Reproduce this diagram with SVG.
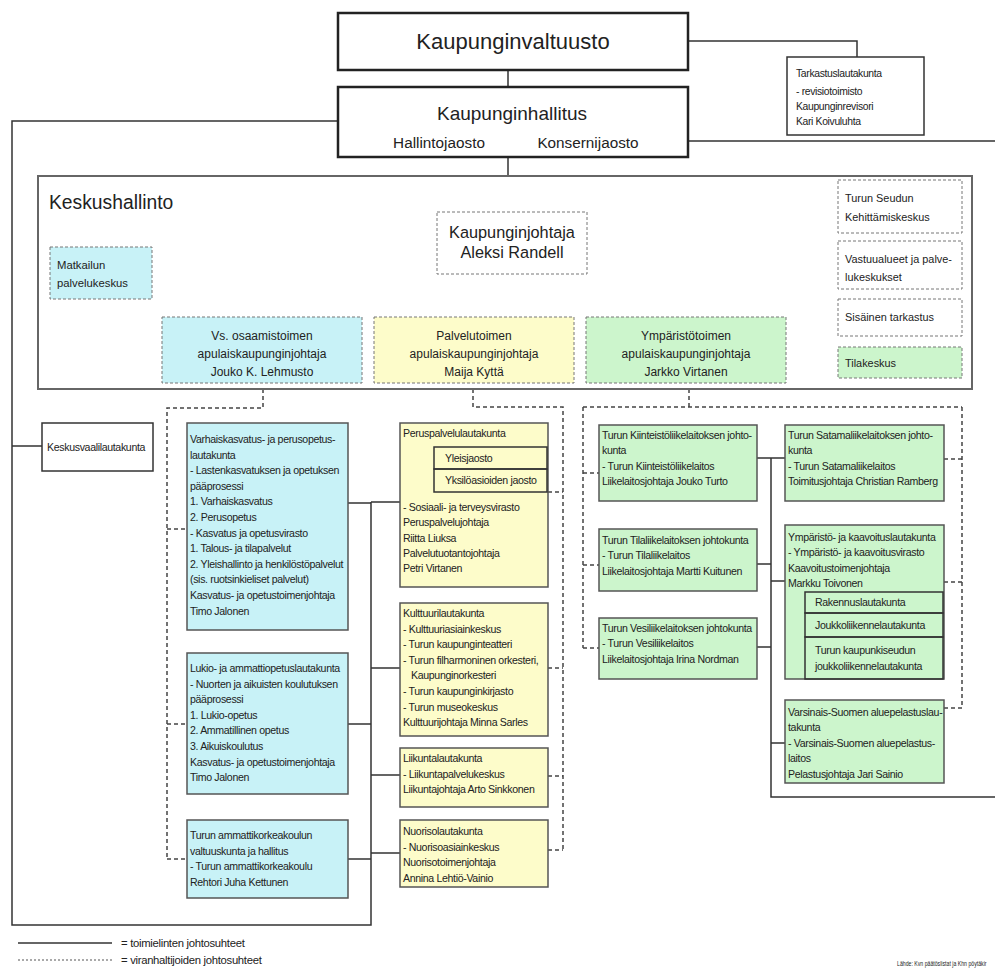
<svg xmlns="http://www.w3.org/2000/svg" width="995" height="969" viewBox="0 0 995 969">
<style>
text{font-family:"Liberation Sans",Arial,sans-serif;fill:#222}
.t{font-size:10.6px;letter-spacing:-0.35px}
.s{font-size:10.4px;letter-spacing:-0.35px}
.lg{font-size:11.3px;letter-spacing:-0.3px}
.big{font-size:22px}
.h2{font-size:19px}
.h3{font-size:15.3px}
.ap{font-size:12px}
.rb{font-size:10.9px}
.ctr{text-anchor:middle}
.top{fill:#fff;stroke:#222;stroke-width:2.5}
.sol{fill:#fff;stroke:#333;stroke-width:1.5}
.cy{fill:#c8f2f7;stroke:#555;stroke-width:1.5}
.ye{fill:#fdfcca;stroke:#555;stroke-width:1.5}
.gr{fill:#ccf5cc;stroke:#555;stroke-width:1.5}
.in{fill:none;stroke:#333;stroke-width:1.5}
.dcy{fill:#c8f2f7;stroke:#777;stroke-width:1;stroke-dasharray:3 2}
.dye{fill:#fdfcca;stroke:#777;stroke-width:1;stroke-dasharray:3 2}
.dgr{fill:#ccf5cc;stroke:#777;stroke-width:1;stroke-dasharray:3 2}
.dwh{fill:#fff;stroke:#777;stroke-width:1;stroke-dasharray:3 2}
.ln{fill:none;stroke:#333;stroke-width:1.5}
.dl{fill:none;stroke:#444;stroke-width:1.5;stroke-dasharray:4 3}
</style>

<g id="connectors">
  <path class="ln" d="M508 70V87M508 157V176M688 41H857V57M688 141H995"/>
  <path class="ln" d="M338 121H12V925H371V502M12 446H42"/>
  <path class="ln" d="M348 503H371M348 724H371M348 859H371M371 502H400M371 668H400M371 775H400M371 853H400"/>
  <path class="ln" d="M771 458V797H995M757 458H785M757 564H771M771 581H785M757 647H771M771 743H785"/>
  <path class="dl" d="M510 274V283M248 283H700M248 283V317M482 283V317M700 283V317"/>
  <path class="dl" d="M587 242H782M782 242L838 210M782 242L838 265M782 242L838 317M786 362H838M88 300L162 350"/>
  <path class="dl" d="M263 389V408H167V859M167 529H187M167 724H187M167 859H187"/>
  <path class="dl" d="M473 389V407H563V850M548 492H563M548 668H563M548 776H563M548 850H563"/>
  <path class="dl" d="M689 389V407M583 407H962M583 407V648M583 473H599M583 565H599M583 648H599M962 407V708M944 459H962M944 582H962M944 708H962"/>
</g>

<g id="kaupunginvaltuusto">
  <rect class="top" x="338" y="13" width="350" height="57"/>
  <text class="big ctr" x="513" y="49">Kaupunginvaltuusto</text>
</g>
<g id="tarkastuslautakunta">
  <rect class="sol" x="787" y="57" width="137" height="78"/>
  <text class="s" x="796"><tspan x="796" y="77">Tarkastuslautakunta</tspan><tspan x="796" y="95">- revisiotoimisto</tspan><tspan x="796" y="110">Kaupunginrevisori</tspan><tspan x="796" y="125">Kari Koivuluhta</tspan></text>
</g>
<g id="kaupunginhallitus">
  <rect class="top" x="338" y="87" width="350" height="70"/>
  <text class="h2 ctr" x="512" y="120">Kaupunginhallitus</text>
  <text class="h3 ctr" x="439" y="148">Hallintojaosto</text>
  <text class="h3 ctr" x="588" y="148">Konsernijaosto</text>
</g>

<g id="keskushallinto">
  <rect x="38" y="176" width="934" height="213" fill="#fff" stroke="#666" stroke-width="2"/>
  <text x="49" y="209" style="font-size:19.3px">Keskushallinto</text>
</g>
<g id="kaupunginjohtaja">
  <rect class="dwh" x="437" y="212" width="150" height="62"/>
  <text class="ctr" style="font-size:16.3px"><tspan x="512" y="238">Kaupunginjohtaja</tspan><tspan x="512" y="258">Aleksi Randell</tspan></text>
</g>
<g id="matkailun">
  <rect class="dcy" x="50" y="247" width="102" height="52"/>
  <text x="57" style="font-size:11.3px"><tspan x="57" y="269">Matkailun</tspan><tspan x="57" y="287">palvelukeskus</tspan></text>
</g>
<g id="vs-osaamistoimen">
  <rect class="dcy" x="162" y="317" width="200" height="66"/>
  <text class="ap ctr"><tspan x="262" y="340">Vs. osaamistoimen</tspan><tspan x="262" y="358">apulaiskaupunginjohtaja</tspan><tspan x="262" y="376">Jouko K. Lehmusto</tspan></text>
</g>
<g id="palvelutoimen">
  <rect class="dye" x="374" y="317" width="200" height="66"/>
  <text class="ap ctr"><tspan x="474" y="340">Palvelutoimen</tspan><tspan x="474" y="358">apulaiskaupunginjohtaja</tspan><tspan x="474" y="376">Maija Kyttä</tspan></text>
</g>
<g id="ymparistotoimen">
  <rect class="dgr" x="586" y="317" width="200" height="66"/>
  <text class="ap ctr"><tspan x="686" y="340">Ympäristötoimen</tspan><tspan x="686" y="358">apulaiskaupunginjohtaja</tspan><tspan x="686" y="376">Jarkko Virtanen</tspan></text>
</g>
<g id="turun-seudun">
  <rect class="dwh" x="838" y="180" width="124" height="53"/>
  <text class="rb"><tspan x="845" y="202">Turun Seudun</tspan><tspan x="845" y="221">Kehittämiskeskus</tspan></text>
</g>
<g id="vastuualueet">
  <rect class="dwh" x="838" y="241" width="124" height="48"/>
  <text class="rb"><tspan x="845" y="263">Vastuualueet ja palve-</tspan><tspan x="845" y="281">lukeskukset</tspan></text>
</g>
<g id="sisainen">
  <rect class="dwh" x="838" y="299" width="124" height="37"/>
  <text class="rb" x="845" y="321">Sisäinen tarkastus</text>
</g>
<g id="tilakeskus">
  <rect class="dgr" x="838" y="347" width="124" height="31"/>
  <text class="rb" x="845" y="367">Tilakeskus</text>
</g>

<g id="keskusvaalilautakunta">
  <rect class="sol" x="42" y="423" width="111" height="48"/>
  <text class="t" x="47" y="451">Keskusvaalilautakunta</text>
</g>

<g id="varhaiskasvatus">
  <rect class="cy" x="187" y="423" width="161" height="207"/>
  <text class="t"><tspan x="190" y="443">Varhaiskasvatus- ja perusopetus-</tspan><tspan x="190" dy="15.6">lautakunta</tspan><tspan x="190" dy="15.6">- Lastenkasvatuksen ja opetuksen</tspan><tspan x="190" dy="15.6">pääprosessi</tspan><tspan x="190" dy="15.6">1. Varhaiskasvatus</tspan><tspan x="190" dy="15.6">2. Perusopetus</tspan><tspan x="190" dy="15.6">- Kasvatus ja opetusvirasto</tspan><tspan x="190" dy="15.6">1. Talous- ja tilapalvelut</tspan><tspan x="190" dy="15.6">2. Yleishallinto ja henkilöstöpalvelut</tspan><tspan x="190" dy="15.6">(sis. ruotsinkieliset palvelut)</tspan><tspan x="190" dy="15.6">Kasvatus- ja opetustoimenjohtaja</tspan><tspan x="190" dy="15.6">Timo Jalonen</tspan></text>
</g>
<g id="lukio">
  <rect class="cy" x="187" y="653" width="161" height="141"/>
  <text class="t"><tspan x="190" y="672">Lukio- ja ammattiopetuslautakunta</tspan><tspan x="190" dy="15.6">- Nuorten ja aikuisten koulutuksen</tspan><tspan x="190" dy="15.6">pääprosessi</tspan><tspan x="190" dy="15.6">1. Lukio-opetus</tspan><tspan x="190" dy="15.6">2. Ammatillinen opetus</tspan><tspan x="190" dy="15.6">3. Aikuiskoulutus</tspan><tspan x="190" dy="15.6">Kasvatus- ja opetustoimenjohtaja</tspan><tspan x="190" dy="15.6">Timo Jalonen</tspan></text>
</g>
<g id="amk">
  <rect class="cy" x="187" y="820" width="161" height="78"/>
  <text class="t"><tspan x="190" y="839">Turun ammattikorkeakoulun</tspan><tspan x="190" dy="15.6">valtuuskunta ja hallitus</tspan><tspan x="190" dy="15.6">- Turun ammattikorkeakoulu</tspan><tspan x="190" dy="15.6">Rehtori Juha Kettunen</tspan></text>
</g>

<g id="peruspalvelulautakunta">
  <rect class="ye" x="400" y="423" width="148" height="164"/>
  <rect class="in" x="434" y="447" width="113" height="22"/>
  <rect class="in" x="434" y="469" width="113" height="23"/>
  <text class="t" x="403" y="437">Peruspalvelulautakunta</text>
  <text class="t" x="445" y="462">Yleisjaosto</text>
  <text class="t" x="445" y="484">Yksilöasioiden jaosto</text>
  <text class="t"><tspan x="403" y="511">- Sosiaali- ja terveysvirasto</tspan><tspan x="403" dy="15.3">Peruspalvelujohtaja</tspan><tspan x="403" dy="15.3">Riitta Liuksa</tspan><tspan x="403" dy="15.3">Palvelutuotantojohtaja</tspan><tspan x="403" dy="15.3">Petri Virtanen</tspan></text>
</g>
<g id="kulttuurilautakunta">
  <rect class="ye" x="400" y="603" width="148" height="133"/>
  <text class="t"><tspan x="403" y="617">Kulttuurilautakunta</tspan><tspan x="403" dy="15.6">- Kulttuuriasiainkeskus</tspan><tspan x="403" dy="15.6">- Turun kaupunginteatteri</tspan><tspan x="403" dy="15.6">- Turun filharmoninen orkesteri,</tspan><tspan x="411" dy="15.6">Kaupunginorkesteri</tspan><tspan x="403" dy="15.6">- Turun kaupunginkirjasto</tspan><tspan x="403" dy="15.6">- Turun museokeskus</tspan><tspan x="403" dy="15.6">Kulttuurijohtaja Minna Sarles</tspan></text>
</g>
<g id="liikuntalautakunta">
  <rect class="ye" x="400" y="748" width="148" height="59"/>
  <text class="t"><tspan x="403" y="762">Liikuntalautakunta</tspan><tspan x="403" dy="15.6">- Liikuntapalvelukeskus</tspan><tspan x="403" dy="15.6">Liikuntajohtaja Arto Sinkkonen</tspan></text>
</g>
<g id="nuorisolautakunta">
  <rect class="ye" x="400" y="820" width="148" height="67"/>
  <text class="t"><tspan x="403" y="835">Nuorisolautakunta</tspan><tspan x="403" dy="15.6">- Nuorisoasiainkeskus</tspan><tspan x="403" dy="15.6">Nuorisotoimenjohtaja</tspan><tspan x="403" dy="15.6">Annina Lehtiö-Vainio</tspan></text>
</g>

<g id="kiinteisto">
  <rect class="gr" x="599" y="425" width="158" height="76"/>
  <text class="t"><tspan x="602" y="439">Turun Kiinteistöliikelaitoksen johto-</tspan><tspan x="602" dy="15.3">kunta</tspan><tspan x="602" dy="15.3">- Turun Kiinteistöliikelaitos</tspan><tspan x="602" dy="15.3">Liikelaitosjohtaja Jouko Turto</tspan></text>
</g>
<g id="tila">
  <rect class="gr" x="599" y="529" width="158" height="62"/>
  <text class="t"><tspan x="602" y="544">Turun Tilaliikelaitoksen johtokunta</tspan><tspan x="602" dy="15.3">- Turun Tilaliikelaitos</tspan><tspan x="602" dy="15.3">Liikelaitosjohtaja Martti Kuitunen</tspan></text>
</g>
<g id="vesi">
  <rect class="gr" x="599" y="618" width="158" height="61"/>
  <text class="t"><tspan x="602" y="632">Turun Vesiliikelaitoksen johtokunta</tspan><tspan x="602" dy="15.3">- Turun Vesiliikelaitos</tspan><tspan x="602" dy="15.3">Liikelaitosjohtaja Irina Nordman</tspan></text>
</g>
<g id="satama">
  <rect class="gr" x="785" y="425" width="159" height="76"/>
  <text class="t"><tspan x="788" y="439">Turun Satamaliikelaitoksen johto-</tspan><tspan x="788" dy="15.3">kunta</tspan><tspan x="788" dy="15.3">- Turun Satamaliikelaitos</tspan><tspan x="788" dy="15.3">Toimitusjohtaja Christian Ramberg</tspan></text>
</g>
<g id="ymparisto-kaavoitus">
  <rect class="gr" x="785" y="525" width="159" height="154"/>
  <rect class="in" x="805" y="592" width="138" height="21"/>
  <rect class="in" x="805" y="613" width="138" height="24"/>
  <rect class="in" x="805" y="637" width="138" height="42"/>
  <text class="t"><tspan x="788" y="541">Ympäristö- ja kaavoituslautakunta</tspan><tspan x="788" dy="15.3">- Ympäristö- ja kaavoitusvirasto</tspan><tspan x="788" dy="15.3">Kaavoitustoimenjohtaja</tspan><tspan x="788" dy="15.3">Markku Toivonen</tspan></text>
  <text class="t" x="815" y="606">Rakennuslautakunta</text>
  <text class="t" x="815" y="628.5">Joukkoliikennelautakunta</text>
  <text class="t"><tspan x="815" y="654">Turun kaupunkiseudun</tspan><tspan x="815" dy="16">joukkoliikennelautakunta</tspan></text>
</g>
<g id="varsinais-suomen">
  <rect class="gr" x="785" y="700" width="159" height="83"/>
  <text class="t"><tspan x="788" y="716">Varsinais-Suomen aluepelastuslau-</tspan><tspan x="788" dy="15.4">takunta</tspan><tspan x="788" dy="15.4">- Varsinais-Suomen aluepelastus-</tspan><tspan x="788" dy="15.4">laitos</tspan><tspan x="788" dy="15.4">Pelastusjohtaja Jari Sainio</tspan></text>
</g>

<g id="legend">
  <path class="ln" d="M18 943H112"/>
  <path d="M18 960H112" fill="none" stroke="#555" stroke-width="1.2" stroke-dasharray="2 2"/>
  <text class="lg" x="121" y="947">= toimielinten johtosuhteet</text>
  <text class="lg" x="121" y="964">= viranhaltijoiden johtosuhteet</text>
  <text transform="translate(897 966) scale(0.72 1)" x="0" y="0" style="font-size:7.2px">Lähde: Kvn päätöslistat ja Khn pöytäkir</text>
</g>
</svg>
